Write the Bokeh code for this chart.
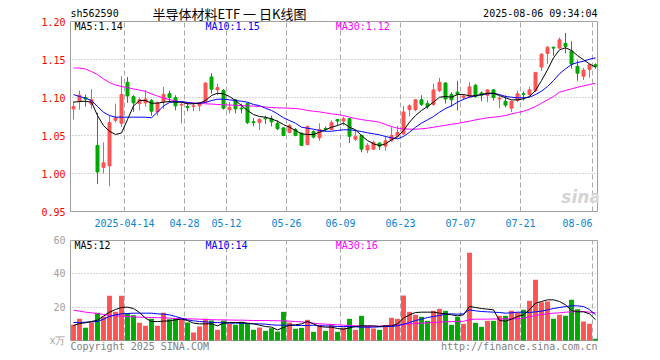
from bokeh.plotting import figure
from bokeh.layouts import column
from bokeh.models import Range1d, FixedTicker, PrintfTickFormatter, Label
from bokeh.embed import file_html
from bokeh.resources import INLINE

# ---------------- data ----------------
dates = [
    "2025-03-31",
    "2025-04-01", "2025-04-02", "2025-04-03", "2025-04-07", "2025-04-08", "2025-04-09", "2025-04-10",
    "2025-04-11", "2025-04-14", "2025-04-15", "2025-04-16", "2025-04-17", "2025-04-18", "2025-04-21",
    "2025-04-22", "2025-04-23", "2025-04-24", "2025-04-25", "2025-04-28", "2025-04-29", "2025-04-30",
    "2025-05-06", "2025-05-07", "2025-05-08", "2025-05-09", "2025-05-12", "2025-05-13", "2025-05-14",
    "2025-05-15", "2025-05-16", "2025-05-19", "2025-05-20", "2025-05-21", "2025-05-22", "2025-05-23",
    "2025-05-26", "2025-05-27", "2025-05-28", "2025-05-29", "2025-05-30",
    "2025-06-03", "2025-06-04", "2025-06-05", "2025-06-06", "2025-06-09", "2025-06-10", "2025-06-11",
    "2025-06-12", "2025-06-13", "2025-06-16", "2025-06-17", "2025-06-18", "2025-06-19", "2025-06-20",
    "2025-06-23", "2025-06-24", "2025-06-25", "2025-06-26", "2025-06-27", "2025-06-30",
    "2025-07-01", "2025-07-02", "2025-07-03", "2025-07-04", "2025-07-07", "2025-07-08", "2025-07-09",
    "2025-07-10", "2025-07-11", "2025-07-14", "2025-07-15", "2025-07-16", "2025-07-17", "2025-07-18",
    "2025-07-21", "2025-07-22", "2025-07-23", "2025-07-24", "2025-07-25", "2025-07-28", "2025-07-29",
    "2025-07-30", "2025-07-31",
    "2025-08-01", "2025-08-04", "2025-08-05", "2025-08-06",
]

opens = [1.085, 1.095, 1.100, 1.091, 1.037, 1.008, 1.010, 1.070, 1.066, 1.120,
         1.101, 1.092, 1.093, 1.096, 1.081, 1.094, 1.105, 1.100, 1.090, 1.088,
         1.088, 1.089, 1.094, 1.127, 1.110, 1.109, 1.084, 1.097, 1.086, 1.092,
         1.068, 1.067, 1.073, 1.072, 1.066, 1.060, 1.054, 1.058, 1.053, 1.038,
         1.055, 1.047, 1.059, 1.058, 1.071, 1.069, 1.072, 1.045, 1.050, 1.031,
         1.032, 1.040, 1.036, 1.043, 1.049, 1.052, 1.084, 1.084, 1.097, 1.092,
         1.091, 1.109, 1.119, 1.104, 1.107, 1.100, 1.101, 1.116, 1.106, 1.103,
         1.110, 1.098, 1.095, 1.086, 1.096, 1.105, 1.104, 1.109, 1.140, 1.158,
         1.166, 1.165, 1.171, 1.161, 1.141, 1.128, 1.137, 1.143]
highs = [1.095, 1.109, 1.104, 1.111, 1.080, 1.041, 1.076, 1.092, 1.128, 1.127,
         1.103, 1.100, 1.110, 1.098, 1.095, 1.114, 1.109, 1.103, 1.093, 1.093,
         1.093, 1.094, 1.120, 1.132, 1.118, 1.111, 1.094, 1.098, 1.092, 1.093,
         1.073, 1.073, 1.076, 1.076, 1.070, 1.061, 1.065, 1.060, 1.054, 1.063,
         1.057, 1.066, 1.062, 1.070, 1.072, 1.075, 1.073, 1.057, 1.051, 1.040,
         1.043, 1.041, 1.049, 1.061, 1.063, 1.089, 1.091, 1.098, 1.103, 1.096,
         1.118, 1.126, 1.120, 1.107, 1.122, 1.104, 1.120, 1.118, 1.108, 1.111,
         1.111, 1.102, 1.103, 1.096, 1.109, 1.108, 1.114, 1.133, 1.158, 1.168,
         1.167, 1.179, 1.185, 1.174, 1.149, 1.139, 1.143, 1.145]
lows = [1.071, 1.084, 1.088, 1.085, 0.986, 1.000, 0.983, 1.067, 1.061, 1.093,
        1.081, 1.083, 1.088, 1.076, 1.076, 1.085, 1.094, 1.083, 1.066, 1.082,
        1.082, 1.082, 1.093, 1.105, 1.103, 1.084, 1.079, 1.079, 1.079, 1.065,
        1.062, 1.057, 1.065, 1.062, 1.057, 1.049, 1.053, 1.049, 1.036, 1.037,
        1.046, 1.043, 1.055, 1.057, 1.063, 1.063, 1.040, 1.043, 1.028, 1.027,
        1.031, 1.031, 1.030, 1.042, 1.047, 1.051, 1.075, 1.082, 1.089, 1.085,
        1.089, 1.107, 1.092, 1.088, 1.083, 1.097, 1.100, 1.100, 1.095, 1.094,
        1.096, 1.086, 1.087, 1.081, 1.094, 1.096, 1.102, 1.107, 1.135, 1.144,
        1.155, 1.164, 1.158, 1.138, 1.122, 1.123, 1.126, 1.138]
closes = [1.088, 1.103, 1.098, 1.097, 1.002, 1.014, 1.067, 1.073, 1.104, 1.102,
          1.093, 1.097, 1.098, 1.082, 1.093, 1.104, 1.100, 1.089, 1.091, 1.087,
          1.089, 1.093, 1.119, 1.111, 1.113, 1.086, 1.087, 1.085, 1.085, 1.067,
          1.067, 1.071, 1.072, 1.068, 1.059, 1.050, 1.063, 1.050, 1.037, 1.062,
          1.048, 1.058, 1.058, 1.067, 1.069, 1.072, 1.049, 1.049, 1.032, 1.037,
          1.041, 1.036, 1.043, 1.050, 1.054, 1.081, 1.089, 1.097, 1.091, 1.088,
          1.110, 1.120, 1.098, 1.097, 1.104, 1.102, 1.114, 1.101, 1.103, 1.110,
          1.100, 1.099, 1.090, 1.095, 1.105, 1.104, 1.110, 1.133, 1.157, 1.166,
          1.165, 1.176, 1.167, 1.144, 1.132, 1.136, 1.143, 1.141]

ma5 = [1.0938, 1.0947, 1.0951, 1.0938, 1.0763, 1.0631, 1.0556, 1.0513, 1.0533, 1.0710,
       1.0888, 1.0960, 1.0960, 1.0925, 1.0925, 1.0938, 1.0947, 1.0938, 1.0938, 1.0917,
       1.0917, 1.0925, 1.0960, 1.1026, 1.1056, 1.1048, 1.1013, 1.0960, 1.0894, 1.0829,
       1.0776, 1.0750, 1.0741, 1.0719, 1.0688, 1.0644, 1.0609, 1.0566, 1.0522, 1.0513,
       1.0513, 1.0543, 1.0575, 1.0609, 1.0631, 1.0662, 1.0609, 1.0575, 1.0500, 1.0434,
       1.0390, 1.0368, 1.0390, 1.0443, 1.0487, 1.0566, 1.0675, 1.0763, 1.0829, 1.0881,
       1.0938, 1.1004, 1.1013, 1.1004, 1.1039, 1.1039, 1.1022, 1.1022, 1.1039, 1.1056,
       1.1056, 1.1026, 1.0996, 1.0969, 1.0969, 1.0983, 1.1013, 1.1092, 1.1223, 1.1364,
       1.1522, 1.1627, 1.1654, 1.1618, 1.1552, 1.1496, 1.1443, 1.1398]
ma10 = [1.1039, 1.1013, 1.0990, 1.0960, 1.0881, 1.0806, 1.0763, 1.0741, 1.0741, 1.0741,
        1.0741, 1.0741, 1.0741, 1.0733, 1.0809, 1.0888, 1.0934, 1.0947, 1.0947, 1.0934,
        1.0925, 1.0925, 1.0934, 1.0960, 1.0977, 1.0977, 1.0969, 1.0960, 1.0951, 1.0938,
        1.0908, 1.0894, 1.0859, 1.0829, 1.0785, 1.0733, 1.0697, 1.0662, 1.0609, 1.0596,
        1.0583, 1.0566, 1.0556, 1.0556, 1.0566, 1.0575, 1.0575, 1.0566, 1.0552, 1.0535,
        1.0522, 1.0509, 1.0487, 1.0469, 1.0456, 1.0487, 1.0543, 1.0609, 1.0662, 1.0706,
        1.0750, 1.0806, 1.0855, 1.0890, 1.0938, 1.0977, 1.1004, 1.1022, 1.1039, 1.1048,
        1.1056, 1.1039, 1.1013, 1.1004, 1.0996, 1.0996, 1.1004, 1.1039, 1.1083, 1.1144,
        1.1223, 1.1312, 1.1377, 1.1434, 1.1460, 1.1477, 1.1504, 1.1522]
ma30 = [1.1388, 1.1388, 1.1375, 1.1342, 1.1302, 1.1243, 1.1197, 1.1164, 1.1144, 1.1131,
        1.1112, 1.1098, 1.1079, 1.1048, 1.1019, 1.0993, 1.0973, 1.0954, 1.0941, 1.0934,
        1.0925, 1.0921, 1.0917, 1.0914, 1.0908, 1.0904, 1.0901, 1.0897, 1.0894, 1.0890,
        1.0887, 1.0881, 1.0875, 1.0868, 1.0864, 1.0862, 1.0859, 1.0855, 1.0846, 1.0829,
        1.0819, 1.0811, 1.0798, 1.0785, 1.0776, 1.0763, 1.0741, 1.0723, 1.0710, 1.0697,
        1.0688, 1.0675, 1.0644, 1.0618, 1.0596, 1.0588, 1.0583, 1.0583, 1.0588, 1.0596,
        1.0609, 1.0622, 1.0635, 1.0648, 1.0658, 1.0675, 1.0688, 1.0706, 1.0719, 1.0733,
        1.0741, 1.0750, 1.0763, 1.0785, 1.0802, 1.0819, 1.0846, 1.0881, 1.0925, 1.0969,
        1.1013, 1.1070, 1.1092, 1.1114, 1.1135, 1.1154, 1.1171, 1.1188]

volumes = [9.4, 13.0, 7.6, 10.8, 16.6, 14.4, 26.8, 17.2, 26.8, 16.4,
           15.2, 10.6, 8.8, 13.0, 8.8, 16.6, 12.8, 13.4, 12.4, 10.8,
           4.8, 8.4, 13.0, 12.0, 6.4, 12.0, 10.0, 9.4, 11.2, 10.4,
           6.4, 7.8, 5.8, 7.4, 5.4, 17.2, 10.8, 7.0, 7.6, 12.4,
           5.2, 9.4, 5.8, 10.0, 5.2, 7.8, 13.0, 6.4, 14.8, 8.8,
           7.2, 6.4, 9.2, 13.6, 13.0, 27.0, 17.2, 15.4, 14.2, 11.8,
           17.8, 19.0, 17.8, 9.4, 14.2, 10.0, 52.6, 10.6, 8.2, 11.8,
           11.8, 14.8, 14.8, 17.8, 17.0, 18.4, 23.8, 36.4, 23.0, 23.4,
           13.0, 15.4, 14.8, 24.4, 18.8, 11.4, 10.0, 1.0]
vma5 = [9.0, 10.2, 10.6, 11.4, 12.2, 14.6, 17.0, 18.6, 19.8, 20.0,
        19.2, 16.8, 13.4, 11.4, 11.4, 11.6, 11.8, 12.4, 12.8, 12.0,
        10.4, 10.0, 10.0, 10.0, 8.8, 10.4, 10.8, 10.8, 10.8, 10.4,
        10.0, 9.2, 8.4, 8.0, 6.4, 7.8, 9.2, 9.4, 10.0, 11.4,
        10.0, 8.4, 8.0, 8.0, 7.2, 6.8, 7.6, 8.4, 8.8, 8.8,
        8.8, 8.4, 8.8, 8.8, 10.0, 13.4, 15.4, 16.8, 17.0, 17.0,
        17.0, 16.4, 16.0, 15.4, 14.8, 15.4, 20.4, 19.8, 19.2, 18.8,
        18.4, 12.0, 11.6, 12.8, 14.4, 15.4, 18.4, 22.4, 23.4, 24.4,
        24.4, 23.4, 21.4, 18.0, 17.2, 17.2, 16.0, 12.5]
vma10 = [10.8, 10.8, 11.0, 11.2, 11.4, 12.8, 14.4, 15.4, 16.0, 16.2,
         16.4, 16.4, 16.4, 16.4, 16.0, 15.8, 15.4, 14.4, 13.4, 12.4,
         11.8, 11.4, 11.2, 10.8, 10.8, 10.6, 10.4, 10.4, 10.4, 10.2,
         10.0, 10.0, 9.8, 9.4, 9.2, 9.2, 9.2, 9.0, 9.0, 9.0,
         9.2, 8.8, 8.8, 8.6, 8.4, 8.4, 8.4, 8.2, 8.0, 8.0,
         8.0, 8.2, 8.4, 8.4, 8.8, 9.8, 10.8, 12.0, 12.8, 13.8,
         14.4, 15.0, 15.8, 16.0, 15.8, 16.0, 18.4, 17.8, 17.4, 17.2,
         17.0, 16.8, 16.4, 16.6, 17.0, 17.0, 16.8, 17.2, 17.6, 18.4,
         19.2, 19.8, 20.4, 20.8, 20.8, 20.4, 18.5, 15.5]
vma30 = [18.2, 17.6, 17.0, 16.6, 16.2, 15.6, 15.0, 14.8, 14.6, 14.4,
         14.2, 14.0, 13.9, 13.8, 13.7, 13.6, 13.4, 13.2, 13.1, 13.0,
         12.9, 12.8, 12.6, 12.5, 12.4, 12.4, 12.3, 12.2, 12.2, 12.1,
         12.0, 12.0, 12.0, 11.9, 11.8, 11.8, 11.6, 11.4, 11.2, 10.8,
         10.4, 10.0, 9.8, 9.6, 9.4, 9.2, 9.0, 8.8, 8.6, 8.5,
         8.5, 8.6, 8.8, 9.0, 9.2, 9.6, 10.0, 10.2, 10.4, 10.6,
         10.8, 11.0, 11.2, 11.3, 11.4, 11.5, 12.6, 12.8, 12.8, 12.8,
         12.9, 12.9, 13.0, 13.0, 13.0, 13.4, 14.2, 15.0, 15.6, 16.0,
         16.4, 16.6, 17.0, 17.2, 17.4, 17.4, 17.0, 16.6]

tick_dates = ["2025-04-14", "2025-04-28", "2025-05-12", "2025-05-26", "2025-06-09",
              "2025-06-23", "2025-07-07", "2025-07-21", "2025-08-06"]
tick_labels = ["2025-04-14", "04-28", "05-12", "05-26", "06-09",
               "06-23", "07-07", "07-21", "08-06"]
price_ticks = [0.95, 1.00, 1.05, 1.10, 1.15, 1.20]
price_grid = [1.00, 1.05, 1.10, 1.15]
vol_ticks = [0, 20, 40, 60]
vol_grid = [20, 40]

code = "sh562590"
title_text = "半导体材料ETF 一 日K线图"
stamp = "2025-08-06 09:34:04"
ma_price_labels = ["MA5:1.14", "MA10:1.15", "MA30:1.12"]
ma_vol_labels = ["MA5:12", "MA10:14", "MA30:16"]
unit_label = "x万"
copyright_text = "Copyright 2025 SINA.COM"
url_text = "http://finance.sina.com.cn"

# ---------------- styling / layout constants ----------------
RED = "#ff5454"
GREEN = "#00a800"
MONO = "DejaVu Sans Mono"
GRID = "#aaaaaa"
BORDER = "#a0a0a0"
DATE_C = "#0a84d0"
MA_COLORS = ["#000000", "#0000ff", "#ff00ff"]

W = 660
PX = 6.0                      # pixels per trading day
LEFT = 69                     # canvas x of frame left
n = len(dates)
X_LO = -0.5                   # plot box left (index units)
X_HI = n - 0.5 - 1 / PX       # plot box right
xr = Range1d(X_LO - 1 / PX, X_HI + 1 / PX)
frame_w = int(round((xr.end - xr.start) * PX))

# price panel: canvas rows 0..230, price 1.20 at row 21, 0.95 at row 211
P_H = 230
PPP = 0.25 / 190              # price per pixel
p_top = 1.20 + 21 * PPP
p_bot = p_top - P_H * PPP
# volume panel: canvas rows 230..356, 60 at row 240, 0 at row 340
V_H = 126
VPP = 0.6
v_top = 60 + 10 * VPP
v_bot = v_top - V_H * VPP

idx = list(range(n))
colors = [RED if c >= o else GREEN for o, c in zip(opens, closes)]
btop = [max(o, c) for o, c in zip(opens, closes)]
bbot = [min(o, c) for o, c in zip(opens, closes)]
tick_pos = [dates.index(d) - 0.5 for d in tick_dates]


def style_yaxis(fig, color):
    ax = fig.yaxis
    ax.major_label_text_color = color
    ax.major_label_text_font = MONO
    ax.major_label_text_font_size = "10px"
    ax.axis_line_color = None
    ax.major_tick_line_color = None
    ax.minor_tick_line_color = None
    ax.major_tick_out = 0
    ax.major_tick_in = 0
    ax.major_label_standoff = 4


def txt(fig, x, y, text, color, align="left", size="10px", font=MONO, style="normal"):
    fig.add_layout(Label(x=x, y=y, text=text, text_font=font, text_font_size=size,
                         text_color=color, text_baseline="middle", text_align=align,
                         text_font_style=style))


# ---------------- price panel ----------------
p = figure(width=W, height=P_H, x_range=xr, y_range=Range1d(p_bot, p_top),
           output_backend="svg", toolbar_location=None, title=None,
           min_border_left=LEFT, min_border_right=W - LEFT - frame_w,
           min_border_top=0, min_border_bottom=0)
p.outline_line_color = None
p.xaxis.visible = False
p.xgrid.visible = False
p.yaxis.ticker = FixedTicker(ticks=price_ticks)
p.yaxis.formatter = PrintfTickFormatter(format="%.2f")
style_yaxis(p, "#ff0000")
p.ygrid.ticker = FixedTicker(ticks=price_grid)
p.ygrid.grid_line_color = GRID
p.ygrid.grid_line_dash = "1 2"

k = len(tick_pos)
p.segment(x0=tick_pos, x1=tick_pos, y0=[price_ticks[0]] * k, y1=[price_ticks[-1]] * k,
          line_color=GRID, line_dash="5 3", line_width=1)
p.quad(left=[X_LO], right=[X_HI], bottom=[price_ticks[0]], top=[price_ticks[-1]],
       fill_color=None, line_color=BORDER, line_width=1)

p.segment(x0=idx, y0=lows, x1=idx, y1=highs, line_color=colors, line_width=1)
p.vbar(x=idx, width=0.5, top=btop, bottom=bbot, fill_color=colors, line_color=colors, line_width=1)
p.line(idx, ma30, line_color=MA_COLORS[2], line_width=1)
p.line(idx, ma10, line_color=MA_COLORS[1], line_width=1)
p.line(idx, ma5, line_color=MA_COLORS[0], line_width=1)

# header
y_head = 1.20 + 8 * PPP
txt(p, X_LO, y_head, code, "#000000", "left")
txt(p, 26.0, y_head, title_text, "#000000", "center", "13px", "Noto Sans CJK SC")
txt(p, X_HI, y_head, stamp, "#000000", "right")
# MA legends
y_ma = 1.20 - 5 * PPP
for xx, t, c in zip([0.17, 22.0, 43.7], ma_price_labels, MA_COLORS):
    txt(p, xx, y_ma, t, c, "left")
# date labels under the box
y_date = 0.95 - 11 * PPP
for j, (tp, lab) in enumerate(zip(tick_pos, tick_labels)):
    txt(p, tp, y_date, lab, DATE_C, "right" if j == len(tick_pos) - 1 else "center")
# watermark
txt(p, 84.6, 0.95 + 15 * PPP, "sina", "#d4d4d4", "center", "17px", "DejaVu Sans", "bold italic")

# ---------------- volume panel ----------------
v = figure(width=W, height=V_H, x_range=xr, y_range=Range1d(v_bot, v_top),
           output_backend="svg", toolbar_location=None, title=None,
           min_border_left=LEFT, min_border_right=W - LEFT - frame_w,
           min_border_top=0, min_border_bottom=0)
v.outline_line_color = None
v.xaxis.visible = False
v.xgrid.visible = False
v.yaxis.ticker = FixedTicker(ticks=vol_ticks)
v.yaxis.major_label_overrides = {0: unit_label}
style_yaxis(v, "#a0a0a0")
v.ygrid.ticker = FixedTicker(ticks=vol_grid)
v.ygrid.grid_line_color = GRID
v.ygrid.grid_line_dash = "1 2"

v.segment(x0=tick_pos, x1=tick_pos, y0=[vol_ticks[0]] * k, y1=[vol_ticks[-1]] * k,
          line_color=GRID, line_dash="5 3", line_width=1)
v.quad(left=[X_LO], right=[X_HI], bottom=[vol_ticks[0]], top=[vol_ticks[-1]],
       fill_color=None, line_color=BORDER, line_width=1)

v.vbar(x=idx, width=0.82, top=volumes, bottom=0, fill_color=colors, line_color=None)
v.line(idx, vma30, line_color=MA_COLORS[2], line_width=1)
v.line(idx, vma10, line_color=MA_COLORS[1], line_width=1)
v.line(idx, vma5, line_color=MA_COLORS[0], line_width=1)

y_vma = 60 - 5 * VPP
for xx, t, c in zip([0.17, 22.0, 43.7], ma_vol_labels, MA_COLORS):
    txt(v, xx, y_vma, t, c, "left")
y_foot = -6 * VPP
txt(v, X_LO, y_foot, copyright_text, "#808080", "left")
txt(v, X_HI, y_foot, url_text, "#808080", "right")

layout = column(p, v, spacing=0)
open("out.html", "w").write(file_html(layout, INLINE))
